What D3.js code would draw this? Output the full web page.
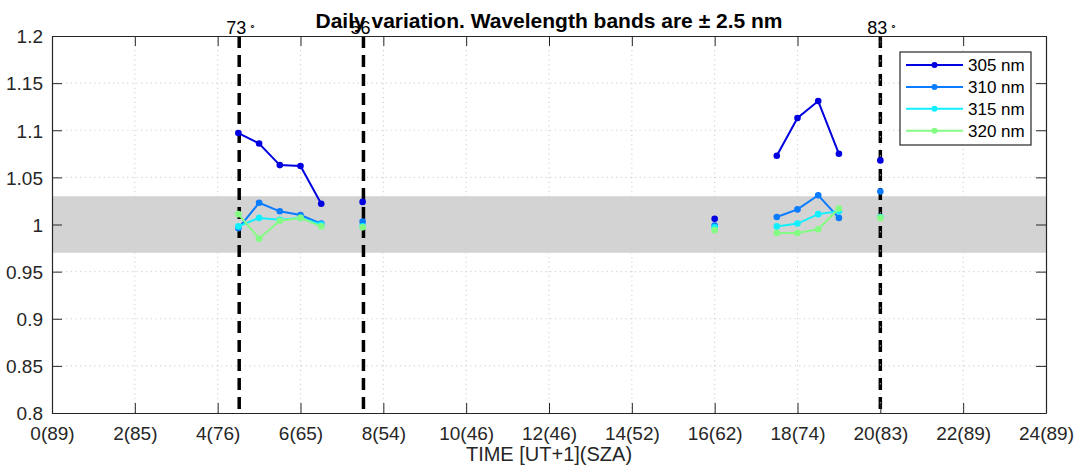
<!DOCTYPE html>
<html>
<head>
<meta charset="utf-8">
<script src="https://cdn.jsdelivr.net/npm/d3@7"></script>
<style>
  html, body { margin: 0; padding: 0; background: #fff; }
  svg { display: block; font-family: "Liberation Sans", Arial, Helvetica, sans-serif; }
</style>
</head>
<body>
<svg id="chart" width="1077" height="470"></svg>
<script>
// Measurement times (hours, UT+1); null values break the connecting lines
const times = [4.5, 5, 5.5, 6, 6.5, 7, 7.5, 8, 16, 17, 17.5, 18, 18.5, 19, 19.5, 20];
const ratio305 = [1.097, 1.086, 1.063, 1.062, 1.022, null, 1.024, null, 1.006, null, 1.073, 1.113, 1.131, 1.075, null, 1.068];
const ratio310 = [0.996, 1.023, 1.014, 1.010, 1.001, null, 1.003, null, 0.999, null, 1.008, 1.016, 1.031, 1.007, null, 1.035];
const ratio315 = [0.998, 1.007, 1.005, 1.007, 1.000, null, 0.998, null, 0.997, null, 0.998, 1.001, 1.011, 1.014, null, 1.008];
const ratio320 = [1.011, 0.985, 1.004, 1.007, 0.998, null, 0.997, null, 0.994, null, 0.991, 0.991, 0.995, 1.017, null, 1.007];

const seriesNames = ["305 nm", "310 nm", "315 nm", "320 nm"];
const seriesColors = ["#0000e0", "#0a7cff", "#12f0ff", "#84fc84"];

// Reference markers: time of solar zenith angle annotations
const szaTimes = [4.52, 7.52, 20.0];
const szaLabels = ["73", "56", "83"];

// Tolerance band around unity
const bandLow = 0.97, bandHigh = 1.03;

const xTicks = [0, 2, 4, 6, 8, 10, 12, 14, 16, 18, 20, 22, 24];
const xTickLabels = ["0(89)", "2(85)", "4(76)", "6(65)", "8(54)", "10(46)", "12(46)", "14(52)", "16(62)", "18(74)", "20(83)", "22(89)", "24(89)"];
const yTicks = [0.8, 0.85, 0.9, 0.95, 1, 1.05, 1.1, 1.15, 1.2];

const svg = d3.select("#chart");
const L = 52, R = 1046, T = 36, B = 413;
const x = d3.scaleLinear().domain([0, 24]).range([L, R]);
const y = d3.scaleLinear().domain([0.8, 1.2]).range([B, T]);
const axisColor = "#262626";

// Grey band
svg.append("rect")
  .attr("x", L).attr("width", R - L)
  .attr("y", y(bandHigh)).attr("height", y(bandLow) - y(bandHigh))
  .attr("fill", "#d3d3d3");

// Dotted grid
const grid = svg.append("g").attr("stroke", "#d4d4d4").attr("stroke-width", 1.2).attr("stroke-dasharray", "1.2,3.5");
grid.selectAll("line.gx").data(xTicks.slice(1, -1)).join("line")
  .attr("x1", d => x(d)).attr("x2", d => x(d)).attr("y1", T).attr("y2", B);
grid.selectAll("line.gy").data(yTicks.slice(1, -1)).join("line")
  .attr("y1", d => y(d)).attr("y2", d => y(d)).attr("x1", L).attr("x2", R);

// Vertical dashed SZA lines
svg.append("g").selectAll("line").data(szaTimes).join("line")
  .attr("x1", d => x(d)).attr("x2", d => x(d)).attr("y1", T).attr("y2", B)
  .attr("stroke", "#000").attr("stroke-width", 3.5).attr("stroke-dasharray", "12,7");
// light specks inside the last dashed line
svg.append("line")
  .attr("x1", x(szaTimes[2])).attr("x2", x(szaTimes[2])).attr("y1", T).attr("y2", B)
  .attr("stroke", "#a0a0a0").attr("stroke-width", 1).attr("stroke-dasharray", "1.5,17.5").attr("stroke-dashoffset", -5);

// SZA labels
const szaText = svg.append("g").attr("font-size", 18).attr("fill", "#000").attr("text-anchor", "middle");
szaLabels.forEach((lab, i) => {
  const t = szaText.append("text").attr("x", x(szaTimes[i]) + 2).attr("y", 34);
  t.append("tspan").text(lab);
  t.append("tspan").attr("font-size", 11).attr("dx", 3).attr("dy", -4).text("\u2218");
});

// Data series
const allSeries = [ratio305, ratio310, ratio315, ratio320];
const line = d3.line()
  .defined(d => d.v !== null)
  .x(d => x(d.t)).y(d => y(d.v));
allSeries.forEach((vals, i) => {
  const pts = times.map((t, j) => ({ t, v: vals[j] }));
  const g = svg.append("g");
  g.append("path").datum(pts).attr("d", line)
    .attr("fill", "none").attr("stroke", seriesColors[i]).attr("stroke-width", 2);
  g.selectAll("circle").data(pts.filter(d => d.v !== null)).join("circle")
    .attr("cx", d => x(d.t)).attr("cy", d => y(d.v)).attr("r", 3.3)
    .attr("fill", seriesColors[i]);
});

// Axes (ticks inward, box)
const tickLen = 10;
const axB = svg.append("g").attr("transform", `translate(0,${B})`)
  .call(d3.axisBottom(x).tickValues(xTicks).tickFormat((d, i) => xTickLabels[i]).tickSizeInner(-tickLen).tickSizeOuter(0).tickPadding(16));
const axT = svg.append("g").attr("transform", `translate(0,${T})`)
  .call(d3.axisTop(x).tickValues(xTicks).tickFormat("").tickSizeInner(-tickLen).tickSizeOuter(0));
const axL = svg.append("g").attr("transform", `translate(${L},0)`)
  .call(d3.axisLeft(y).tickValues(yTicks).tickFormat(d3.format("")).tickSizeInner(-tickLen).tickSizeOuter(0).tickPadding(9));
const axR = svg.append("g").attr("transform", `translate(${R},0)`)
  .call(d3.axisRight(y).tickValues(yTicks).tickFormat("").tickSizeInner(-tickLen).tickSizeOuter(0));
[axB, axT, axL, axR].forEach(a => {
  a.select(".domain").attr("stroke", axisColor).attr("stroke-width", 1.2);
  a.selectAll(".tick line").attr("stroke", axisColor).attr("stroke-width", 1);
  a.selectAll("text").attr("font-size", 19).attr("fill", axisColor)
    .attr("font-family", "'Liberation Sans', Arial, sans-serif");
});
axL.selectAll("text").attr("dy", "0.36em");
axB.selectAll("text").attr("dy", "0.6em");

// Axis title
svg.append("text").attr("x", (L + R) / 2).attr("y", 461).attr("text-anchor", "middle")
  .attr("font-size", 20).attr("fill", axisColor).text("TIME [UT+1](SZA)");

// Chart title
svg.append("text").attr("x", (L + R) / 2).attr("y", 28).attr("text-anchor", "middle")
  .attr("font-size", 21).attr("font-weight", "bold").attr("fill", "#000")
  .text("Daily variation. Wavelength bands are \u00b1 2.5 nm");

// Legend
const lg = svg.append("g");
lg.append("rect").attr("x", 900).attr("y", 52).attr("width", 131).attr("height", 93)
  .attr("fill", "#fff").attr("stroke", axisColor).attr("stroke-width", 1.2);
seriesNames.forEach((name, i) => {
  const yy = 65 + i * 21.9;
  lg.append("line").attr("x1", 906).attr("x2", 963).attr("y1", yy).attr("y2", yy)
    .attr("stroke", seriesColors[i]).attr("stroke-width", 2);
  lg.append("circle").attr("cx", 934.5).attr("cy", yy).attr("r", 3).attr("fill", seriesColors[i]);
  lg.append("text").attr("x", 968).attr("y", yy).attr("dy", "0.36em")
    .attr("font-size", 17).attr("fill", "#000").text(name);
});
</script>
</body>
</html>
